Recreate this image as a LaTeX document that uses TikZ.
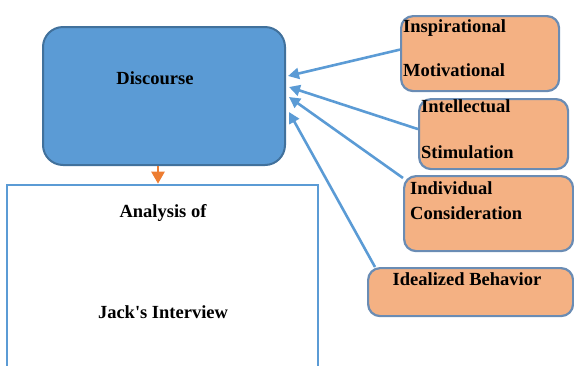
\documentclass[tikz,border=0pt]{standalone}
\usepackage{fontspec}
\setmainfont{Liberation Serif}
\usetikzlibrary{arrows.meta,calc}
\definecolor{bfill}{HTML}{5B9BD5}
\definecolor{bline}{HTML}{41719C}
\definecolor{ofill}{HTML}{F4B183}
\definecolor{oline}{HTML}{6A8CB4}
\definecolor{arr}{HTML}{5B9BD5}
\definecolor{orarr}{HTML}{ED7D31}
\begin{document}
\begin{tikzpicture}[x=1pt,y=-1pt,
  lab/.style={font=\fontsize{18.5}{20}\selectfont\bfseries, inner sep=0pt, text height=0.7em, text depth=0.2em},
  obox/.style={draw=oline, line width=2.2pt, fill=ofill, rounded corners=12pt, anchor=north west},
  conn/.style={draw=arr, line width=2.6pt, -{Triangle[length=11pt,width=11pt]}}]
\useasboundingbox (0,0) rectangle (574,365);
\clip (0,0) rectangle (574,365);
% Discourse
\node[draw=bline, line width=2pt, fill=bfill, rounded corners=20pt, minimum width=242pt, minimum height=138pt, inner sep=0pt] (disc) at (164,96) {};
\node[lab] (disct) at (155,82) {Discourse};
% Analysis box
\node[draw=bfill, line width=2.6pt, fill=white, minimum width=311pt, minimum height=190pt, inner sep=0pt] (ana) at (162.5,280) {};
\node[lab] (anat1) at (163,215) {Analysis of};
\node[lab] (anat2) at (163,316) {Jack\textquotesingle s Interview};
% orange boxes
\node[obox, minimum width=158pt, minimum height=75pt] (insp) at (400,15) {};
\node[lab, anchor=west] (inspt1) at (403,30) {Inspirational};
\node[lab, anchor=west] (inspt2) at (403,74) {Motivational};
\node[obox, minimum width=149pt, minimum height=70pt] (intel) at (418,98) {};
\node[lab, anchor=west] (intelt1) at (421,110) {Intellectual};
\node[lab, anchor=west] (intelt2) at (421,156) {Stimulation};
\node[obox, minimum width=169pt, minimum height=75pt] (indiv) at (403,175) {};
\node[lab, anchor=west] (indivt1) at (410,192) {Individual};
\node[lab, anchor=west] (indivt2) at (410,217) {Consideration};
\node[obox, minimum width=205pt, minimum height=48pt] (ideal) at (367,267) {};
\node[lab] (idealt) at (467,283) {Idealized Behavior};
% connectors
\draw[conn] ([yshift=4pt]insp.west) -- ([yshift=20pt,xshift=2pt]disc.east);
\draw[conn] ([yshift=5pt]intel.west) -- ([yshift=9pt,xshift=3pt]disc.east);
\draw[conn] ([xshift=0pt,yshift=-3pt]indiv.north west) -- ([yshift=-1pt,xshift=3pt]disc.east);
\draw[conn] ([xshift=8pt]ideal.north west) -- ([yshift=-16pt,xshift=3pt]disc.east);
\draw[draw=orarr, line width=2.4pt, -{Triangle[length=12pt,width=13pt]}] ([xshift=-6pt]disc.south) -- ([xshift=-4.5pt]ana.north);
\end{tikzpicture}
\end{document}
